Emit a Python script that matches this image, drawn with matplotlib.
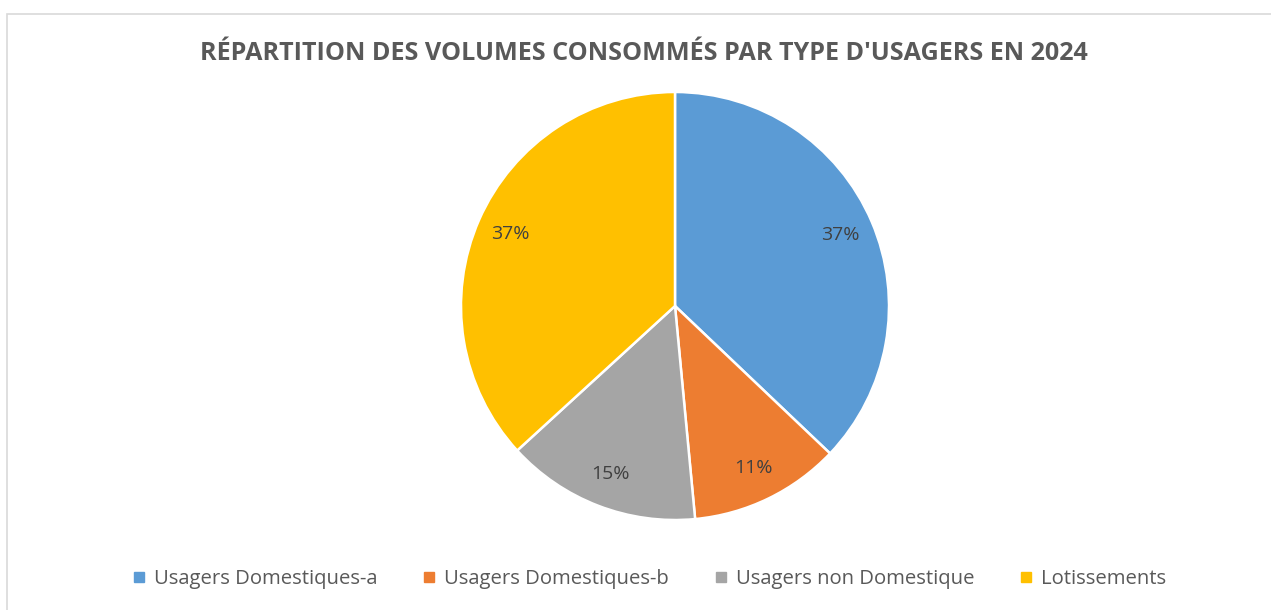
import matplotlib
matplotlib.use("Agg")
import matplotlib.pyplot as plt
from matplotlib.lines import Line2D
from matplotlib.patches import Rectangle

plt.rcParams['font.family'] = ['Open Sans', 'DejaVu Sans']

titre = "RÉPARTITION DES VOLUMES CONSOMMÉS PAR TYPE D'USAGERS EN 2024"
categories = ["Usagers Domestiques-a", "Usagers Domestiques-b",
              "Usagers non Domestique", "Lotissements"]
volumes = [37.1, 11.4, 14.7, 36.8]
couleurs = ["#5B9BD5", "#ED7D31", "#A5A5A5", "#FFC000"]

W, H = 1271, 610
fig = plt.figure(figsize=(W / 100, H / 100), dpi=100)

# cadre gris clair du graphique
fig.patches.append(Rectangle((7 / W, -0.01), 1.0, (H - 14) / H + 0.01,
                             transform=fig.transFigure, fill=False,
                             edgecolor="#D9D9D9", linewidth=1.2))

cx, cy, r = 675, 306, 214
ax = fig.add_axes([(cx - r) / W, (H - cy - r) / H, 2 * r / W, 2 * r / H])
wedges, texts, autotexts = ax.pie(
    volumes, colors=couleurs, startangle=90, counterclock=False,
    autopct=lambda p: "%.0f%%" % p, pctdistance=0.84, radius=1.0,
    wedgeprops=dict(edgecolor="white", linewidth=1.8))
for t in autotexts:
    t.set_color("#404040")
    t.set_fontsize(14)
ax.set_xlim(-1, 1)
ax.set_ylim(-1, 1)
ax.set_aspect("auto")
ax.axis("off")

fig.text(644 / W, 1 - 53 / H, titre, ha="center", va="center",
         fontsize=18.1, fontweight="bold", color="#595959")

handles = [Line2D([], [], marker="s", linestyle="none", markersize=7,
                  markerfacecolor=c, markeredgecolor=c) for c in couleurs]
leg = fig.legend(handles, categories, loc="center", ncol=4,
                 bbox_to_anchor=(649 / W, 1 - 579 / H), frameon=False,
                 fontsize=14.6, handlelength=0.7, handletextpad=0.4,
                 columnspacing=2.2, labelcolor="#595959")

fig.savefig("out.png", dpi=100)
